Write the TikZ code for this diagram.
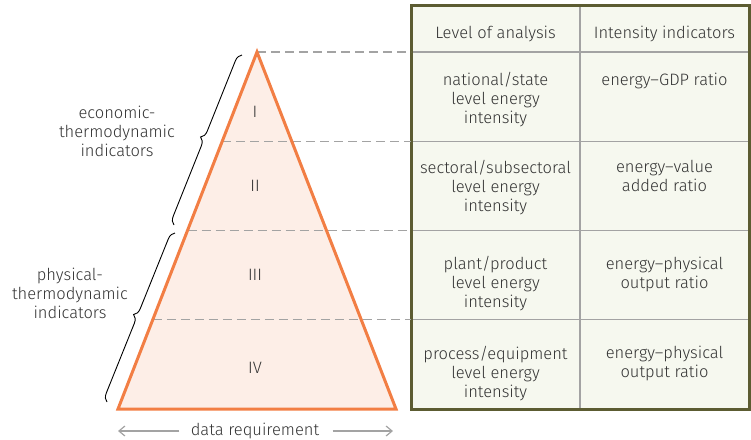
\documentclass[tikz,border=0pt]{standalone}
\usepackage{fontspec}
\IfFontExistsTF{Fira Sans Book}{\setmainfont{Fira Sans Book}}{\IfFontExistsTF{Fira Sans Light}{\setmainfont{Fira Sans Light}}{\setmainfont{Fira Sans}}}
\usetikzlibrary{positioning,calc,arrows.meta,decorations.pathreplacing}

\definecolor{pyrline}{HTML}{F27E44}
\definecolor{pyrfill}{HTML}{FDEEE7}
\definecolor{tabline}{HTML}{5C5C32}
\definecolor{tabfill}{HTML}{F6F8EF}
\definecolor{gridgray}{HTML}{A3A3A3}
\definecolor{txtgray}{HTML}{333333}

\begin{document}
\begin{tikzpicture} [
                x=1pt, y=-1pt,
                font=\fontsize{16.5}{19}\selectfont,
                text=txtgray,
                cell/.style={
                    rectangle,
                    draw=gridgray,
                    fill=tabfill,
                    line width=1.2pt,
                    inner sep=0pt,
                    outer sep=0pt,
                    minimum width=169pt,
                    minimum height=89.25pt
                },
                headcell/.style={cell, minimum height=47pt},
                celltext/.style={align=center, inner sep=0pt},
                dashline/.style={draw=gridgray, line width=1.2pt, dash pattern=on 9pt off 5pt},
                bracket/.style={decorate, decoration={brace, amplitude=8pt}, line width=0.9pt, draw=black},
                sidearrow/.style={draw=gridgray, line width=1.2pt, -{Straight Barb[length=6pt, width=10pt]}}
            ]

                \useasboundingbox (0,0) rectangle (751,439);

                % pyramid
                \coordinate (apex)  at (257,52);
                \coordinate (bl)    at (118,409);
                \coordinate (br)    at (396,409);
                \fill[pyrfill] (apex) -- (bl) -- (br) -- cycle;

                % table cells
                \node[headcell]                 (hdrL)  at (495.5,28.5)         {};
                \node[headcell]                 (hdrR)  [right=0pt of hdrL]     {};
                \node[cell]                     (lvl1a) [below=0pt of hdrL]     {};
                \node[cell]                     (lvl1b) [below=0pt of hdrR]     {};
                \node[cell]                     (lvl2a) [below=0pt of lvl1a]    {};
                \node[cell]                     (lvl2b) [below=0pt of lvl1b]    {};
                \node[cell]                     (lvl3a) [below=0pt of lvl2a]    {};
                \node[cell]                     (lvl3b) [below=0pt of lvl2b]    {};
                \node[cell]                     (lvl4a) [below=0pt of lvl3a]    {};
                \node[cell]                     (lvl4b) [below=0pt of lvl3b]    {};
                \draw[tabline, line width=3pt] (hdrL.north west) rectangle (lvl4b.south east);

                \node[celltext] (hdrLtxt)   [below=20.5pt of hdrL.north]    {Level of analysis};
                \node[celltext] (hdrRtxt)   [below=20.5pt of hdrR.north]    {Intensity indicators};
                \node[celltext] (lvl1atxt)  [below=20.5pt of lvl1a.north]   {national/state\\level energy\\intensity};
                \node[celltext] (lvl1btxt)  [below=20.5pt of lvl1b.north]   {energy--GDP ratio};
                \node[celltext] (lvl2atxt)  [below=19pt of lvl2a.north]     {sectoral/subsectoral\\level energy\\intensity};
                \node[celltext] (lvl2btxt)  [below=19pt of lvl2b.north]     {energy--value\\added ratio};
                \node[celltext] (lvl3atxt)  [below=26pt of lvl3a.north]     {plant/product\\level energy\\intensity};
                \node[celltext] (lvl3btxt)  [below=26pt of lvl3b.north]     {energy--physical\\output ratio};
                \node[celltext] (lvl4atxt)  [below=26pt of lvl4a.north]     {process/equipment\\level energy\\intensity};
                \node[celltext] (lvl4btxt)  [below=26pt of lvl4b.north]     {energy--physical\\output ratio};

                % level lines
                \draw[dashline] (apex)                  -- (hdrL.south west);
                \draw[dashline] ($(apex)!.25!(bl)$)     -- (lvl1a.south west);
                \draw[dashline] ($(apex)!.5!(bl)$)      -- (lvl2a.south west);
                \draw[dashline] ($(apex)!.75!(bl)$)     -- (lvl3a.south west);
                \draw[pyrline, line width=3pt, line join=miter] (apex) -- (bl) -- (br) -- cycle;

                \node (lvlI)    at (255,112)    {I};
                \node (lvlII)   at (255,186)    {II};
                \node (lvlIII)  at (255,275)    {III};
                \node (lvlIV)   at (255,368)    {IV};

                % braces
                \coordinate (econlo)    at (174,225);
                \coordinate (econhi)    at (242,55);
                \coordinate (physlo)    at (107,402);
                \coordinate (physhi)    at (175,233);
                \draw[bracket] (econlo) -- (econhi);
                \draw[bracket] (physlo) -- (physhi);
                \node[celltext] (econ)  at (117,131)    {economic-\\thermodynamic\\indicators};
                \node[celltext] (phys)  at (70,293)     {physical-\\thermodynamic\\indicators};

                % data requirement
                \node (datareq) at (255,431) {data requirement};
                \draw[sidearrow, shorten <=8pt] (datareq.west) -- (datareq.west -| bl);
                \draw[sidearrow, shorten <=10pt, shorten >=3pt] (datareq.east) -- (datareq.east -| br);

            \end{tikzpicture}
\end{document}
